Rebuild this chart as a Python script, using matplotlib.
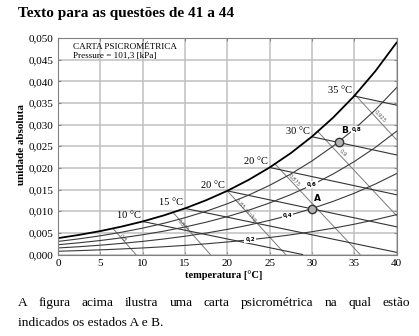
import math
import matplotlib
matplotlib.use("Agg")
import matplotlib.pyplot as plt
from matplotlib.ticker import FuncFormatter

plt.rcParams["font.family"] = ["Liberation Serif", "DejaVu Serif"]

# dry-bulb temperature samples [°C]
temps = [0, 2.5, 5, 7.5, 10, 12.5, 15, 17.5, 20, 22.5, 25, 27.5, 30, 32.5, 35, 37.5, 40]

# saturation curve and relative humidity curves (humidity ratio)
w_sat = [0.00378, 0.00453, 0.00541, 0.00644, 0.00763, 0.00903, 0.01065, 0.01253, 0.01470,
         0.01721, 0.02009, 0.02340, 0.02722, 0.03159, 0.03660, 0.04234, 0.04891]
w_rh80 = [0.00302, 0.00362, 0.00432, 0.00514, 0.00609, 0.00720, 0.00849, 0.00998, 0.01171,
          0.01369, 0.01597, 0.01858, 0.02159, 0.02502, 0.02894, 0.03341, 0.03852]
w_rh60 = [0.00226, 0.00271, 0.00323, 0.00385, 0.00456, 0.00539, 0.00635, 0.00746, 0.00874,
          0.01021, 0.01190, 0.01383, 0.01605, 0.01858, 0.02145, 0.02473, 0.02845]
w_rh40 = [0.00151, 0.00180, 0.00215, 0.00256, 0.00303, 0.00358, 0.00422, 0.00495, 0.00580,
          0.00677, 0.00788, 0.00915, 0.01061, 0.01226, 0.01414, 0.01627, 0.01868]
w_rh20 = [0.00075, 0.00090, 0.00107, 0.00128, 0.00151, 0.00179, 0.00210, 0.00247, 0.00289,
          0.00337, 0.00392, 0.00454, 0.00526, 0.00607, 0.00699, 0.00803, 0.00920]
rh_curves = [w_rh20, w_rh40, w_rh60, w_rh80]
rh_names = ["0,2", "0,4", "0,6", "0,8"]
rh_lab_t = [22.7, 27.1, 30.0, 35.3]
rh_lab_w = [0.0034, 0.0091, 0.0161, 0.0289]

# wet-bulb lines: start on saturation, end on the border
wb_names = ["10 °C", "15 °C", "20 °C", "20 °C", "30 °C", "35 °C"]
wb_t = [(10, 28.9), (15, 40), (20, 40), (25, 40), (30, 40), (35, 40)]
wb_w = [(0.00763, 0.0), (0.01065, 0.0005), (0.0147, 0.0064),
        (0.0201, 0.0138), (0.0272, 0.0230), (0.0366, 0.0345)]

# specific volume lines
vol_names = ["0,8", "0,825", "0,85 m³/kg", "0,875", "0,9", "0,925"]
vol_t = [(6.5, 9.2), (13.6, 18.0), (20.0, 26.9), (25.6, 35.7), (30.7, 40), (35.1, 40)]
vol_w = [(0.0060, 0.0), (0.0097, 0.0), (0.0147, 0.0), (0.0210, 0.0), (0.0284, 0.0090), (0.0369, 0.0265)]
vol_lab_t = [7.7, 14.8, 22.2, 27.9, 33.6, 38.0]
vol_lab_w = [0.0039, 0.0068, 0.0103, 0.0172, 0.0234, 0.0318]

# states
state_names = ["A", "B"]
state_t = [30.0, 33.2]
state_w = [0.0104, 0.0259]

fig = plt.figure(figsize=(4.19, 3.36), dpi=100)
ax = fig.add_axes([58 / 419, 1 - 254.5 / 336, 338.5 / 419, 216.5 / 336])
ax.set_xlim(0, 40)
ax.set_ylim(0, 0.05)
ax.set_xticks(range(0, 41, 5))
ax.set_yticks([i * 0.005 for i in range(11)])
ax.yaxis.set_major_formatter(FuncFormatter(lambda v, p: f"{v:.3f}".replace(".", ",")))
ax.tick_params(labelsize=8, length=2, direction="in", pad=3, color="#888888",
               top=True, right=True)
ax.grid(True, color="#c0c0c0", lw=1.1)
ax.set_axisbelow(True)
for s in ax.spines.values():
    s.set_color("#808080")
    s.set_linewidth(0.8)

fig.canvas.draw()


def angle(t, w):
    p0 = ax.transData.transform((t[0], w[0]))
    p1 = ax.transData.transform((t[1], w[1]))
    return math.degrees(math.atan2(p1[1] - p0[1], p1[0] - p0[0]))


# volume lines
for name, t, w, lt, lw_ in zip(vol_names, vol_t, vol_w, vol_lab_t, vol_lab_w):
    ax.plot(t, w, color="#7a7a7a", lw=0.7)
    ax.text(lt, lw_, name, fontsize=3.8, color="#555555", rotation=angle(t, w),
            ha="center", va="center", rotation_mode="anchor", family="DejaVu Sans")

# wet-bulb lines
for name, t, w in zip(wb_names, wb_t, wb_w):
    ax.plot(t, w, color="#333333", lw=0.8)
    ax.annotate(name, (t[0], w[0]), xytext=(-1.5, 0.8), textcoords="offset points",
                ha="right", va="bottom", fontsize=7.5)

# relative humidity curves
for w, name, lt, lw_ in zip(rh_curves, rh_names, rh_lab_t, rh_lab_w):
    ax.plot(temps, w, color="#3a3a3a", lw=0.8)
    ax.text(lt, lw_, name, fontsize=4, fontweight="bold", family="DejaVu Sans",
            ha="center", va="center",
            bbox=dict(boxstyle="square,pad=0.15", fc="white", ec="none"))

ax.plot(temps, w_sat, color="black", lw=1.3)

ax.plot(state_t, state_w, "o", ms=6, mfc="#b4b4b4", mec="#333333", mew=1.0, zorder=5)
for name, t, w in zip(state_names, state_t, state_w):
    ax.annotate(name, (t, w), xytext=(1.5, 5), textcoords="offset points",
                fontsize=6.5, fontweight="bold", family="DejaVu Sans", ha="left", va="bottom")

ax.text(0.044, 0.958, "CARTA PSICROMÉTRICA", transform=ax.transAxes, fontsize=6.6, va="center")
ax.text(0.044, 0.918, "Pressure = 101,3 [kPa]", transform=ax.transAxes, fontsize=6.6, va="center")

fig.text(223.5 / 419, 1 - 275 / 336, "temperatura [°C]", fontsize=7.6, fontweight="bold",
         ha="center", va="center")
fig.text(21 / 419, 1 - 144.5 / 336, "unidade absoluta", fontsize=8, fontweight="bold",
         rotation=90, ha="center", va="center")

fig.text(18 / 419, 1 - 17 / 336, "Texto para as questões de 41 a 44", fontsize=11,
         fontweight="bold", ha="left", va="baseline")

# justified paragraph below the chart
line1 = "A figura acima ilustra uma carta psicrométrica na qual estão"
line2 = "indicados os estados A e B."
renderer = fig.canvas.get_renderer()
x_left, x_right = 18, 410
words = line1.split()
objs = [fig.text(0, 0, wd, fontsize=9.6, va="baseline") for wd in words]
widths = [o.get_window_extent(renderer).width for o in objs]
gap = (x_right - x_left - sum(widths)) / (len(words) - 1)
x = x_left
for o, wdt in zip(objs, widths):
    o.set_position((x / 419, 1 - 306 / 336))
    x += wdt + gap
fig.text(x_left / 419, 1 - 326 / 336, line2, fontsize=9.6, va="baseline")

fig.savefig("out.png", dpi=100)
